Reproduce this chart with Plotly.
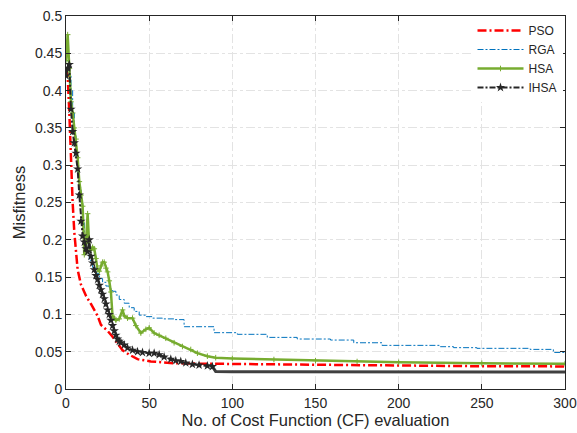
import plotly.graph_objects as go

# Convergence of misfitness versus number of cost-function evaluations
pso_x = [0, 1, 2, 3, 4, 5, 6, 7, 9, 12, 15, 19, 21, 25, 28, 31, 34, 38, 43, 51, 65, 80, 100, 150, 200, 250, 300]
pso_y = [0.43, 0.42, 0.37, 0.30, 0.25, 0.21, 0.18, 0.16, 0.14, 0.125, 0.114, 0.098, 0.086, 0.078, 0.070,
         0.061, 0.052, 0.046, 0.040, 0.037, 0.0345, 0.034, 0.0335, 0.0325, 0.031, 0.0305, 0.0303]

rga_x = [0, 2, 3, 4, 5, 6, 7, 8, 9, 10, 11, 12, 14, 16, 18, 20, 22, 24, 26, 28, 30, 32, 35, 38, 41, 44,
         48, 52, 58, 65, 71, 89, 103, 121, 139, 159, 173, 190, 225, 233, 247, 279, 293, 300]
rga_y = [0.44, 0.42, 0.40, 0.37, 0.34, 0.31, 0.29, 0.27, 0.25, 0.225, 0.205, 0.19, 0.172, 0.163, 0.155,
         0.148, 0.143, 0.138, 0.134, 0.131, 0.126, 0.12, 0.115, 0.109, 0.104, 0.099, 0.097, 0.095, 0.094,
         0.093, 0.0835, 0.0755, 0.0733, 0.0692, 0.067, 0.0656, 0.062, 0.0585, 0.0567, 0.0554, 0.0545,
         0.0531, 0.049, 0.049]

hsa_x = [0, 1, 2, 3, 4, 5, 6, 7, 8, 9, 10, 11, 12, 13, 14, 15, 16, 17, 18, 19, 20, 21, 22, 23, 24, 25,
         26, 27, 28, 29, 30, 32, 34, 35, 37, 40, 42, 45, 48, 50, 53, 56, 60, 65, 70, 75, 79, 85, 90, 100,
         125, 150, 175, 200, 250, 300]
hsa_y = [0.44, 0.475, 0.43, 0.385, 0.37, 0.35, 0.335, 0.31, 0.278, 0.26, 0.245, 0.18, 0.195, 0.235, 0.19,
         0.186, 0.19, 0.188, 0.175, 0.16, 0.158, 0.165, 0.17, 0.17, 0.162, 0.157, 0.145, 0.13, 0.097, 0.095,
         0.092, 0.094, 0.106, 0.098, 0.095, 0.095, 0.085, 0.075, 0.08, 0.082, 0.075, 0.072, 0.068, 0.062,
         0.057, 0.053, 0.048, 0.044, 0.042, 0.041, 0.0395, 0.038, 0.0368, 0.0357, 0.0345, 0.034]

ihsa_x = [0, 1, 2, 3, 4, 5, 6, 7, 8, 9, 10, 11, 12, 13, 14, 15, 16, 17, 18, 19, 20, 21, 22, 23, 24, 25,
          26, 27, 28, 29, 30, 31, 32, 33, 35, 37, 40, 43, 46, 50, 53, 56, 59, 63, 66, 69, 72, 76, 80, 85,
          88, 90, 100, 150, 200, 250, 300]
ihsa_y = [0.42, 0.43, 0.435, 0.375, 0.345, 0.33, 0.316, 0.295, 0.26, 0.225, 0.205, 0.197, 0.188, 0.184,
          0.2, 0.178, 0.169, 0.16, 0.152, 0.147, 0.139, 0.133, 0.127, 0.121, 0.114, 0.106, 0.1, 0.092,
          0.085, 0.078, 0.072, 0.067, 0.064, 0.062, 0.059, 0.055, 0.052, 0.05, 0.049, 0.048, 0.048, 0.046,
          0.043, 0.04, 0.038, 0.037, 0.035, 0.033, 0.032, 0.031, 0.03, 0.0235, 0.0232, 0.023, 0.023,
          0.023, 0.0228]

x_ticks = [0, 50, 100, 150, 200, 250, 300]
y_ticks = [0, 0.05, 0.1, 0.15, 0.2, 0.25, 0.3, 0.35, 0.4, 0.45, 0.5]

FONT = "Liberation Sans, Arial, sans-serif"
TXT = "#262626"
DASHDOT = "6px,2px,2px,2px"

fig = go.Figure()
fig.add_trace(go.Scatter(
    x=pso_x, y=pso_y, name="PSO", mode="lines",
    line=dict(color="#ff0000", width=2.5, dash="9px,3px,2px,3px")))
fig.add_trace(go.Scatter(
    x=rga_x, y=rga_y, name="RGA", mode="lines", line_shape="hv",
    line=dict(color="#0072bd", width=1, dash=DASHDOT)))
fig.add_trace(go.Scatter(
    x=hsa_x, y=hsa_y, name="HSA", mode="lines+markers",
    line=dict(color="#77ac30", width=2.5),
    marker=dict(symbol="cross-thin", size=4, color="#77ac30",
                line=dict(color="#77ac30", width=1))))

# IHSA: star-marked descent, then the settled tail drawn as a dark band
tail_start = 88
head_x = [x for x in ihsa_x if x <= tail_start]
head_y = [y for x, y in zip(ihsa_x, ihsa_y) if x <= tail_start]
tail_x = [x for x in ihsa_x if x >= tail_start]
tail_y = [y for x, y in zip(ihsa_x, ihsa_y) if x >= tail_start]
fig.add_trace(go.Scatter(
    x=tail_x, y=tail_y, mode="lines", showlegend=False, hoverinfo="skip",
    line=dict(color="#404040", width=3)))
fig.add_trace(go.Scatter(
    x=head_x, y=head_y, name="IHSA", mode="lines+markers",
    line=dict(color="#262626", width=2, dash=DASHDOT),
    marker=dict(symbol="star", color="#262626", size=7)))

axis_common = dict(
    showline=True, linecolor="#262626", linewidth=1, mirror="ticks",
    ticks="inside", ticklen=5, tickcolor="#262626",
    showgrid=True, gridcolor="#e3e3e3", griddash="dashdot", gridwidth=1,
    zeroline=False, automargin=False,
    tickfont=dict(family=FONT, size=14, color=TXT),
    title_font=dict(family=FONT, size=16.5, color=TXT),
)

fig.update_xaxes(range=[0, 300], tickvals=x_ticks, ticklabelstandoff=1,
                 title_text="No. of Cost Function (CF) evaluation", title_standoff=3,
                 **axis_common)
fig.update_yaxes(range=[0, 0.5], tickvals=y_ticks,
                 ticktext=[f"{v:g}" for v in y_ticks],
                 title_text="Misfitness", title_standoff=5, **axis_common)

fig.update_layout(
    width=577, height=433,
    margin=dict(l=66, r=12, t=16, b=44),
    plot_bgcolor="white", paper_bgcolor="white",
    font=dict(family=FONT, size=14, color=TXT),
    showlegend=True,
    legend=dict(x=0.995, xanchor="right", y=1.0, yanchor="top",
                bgcolor="white", borderwidth=0,
                font=dict(family=FONT, size=12, color=TXT),
                itemwidth=46, tracegroupgap=0),
)

fig.write_html("out.html")
